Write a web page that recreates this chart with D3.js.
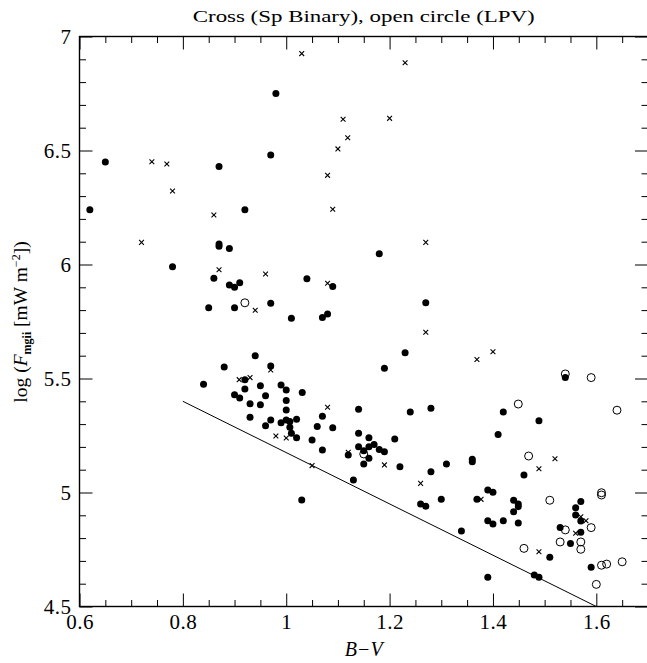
<!DOCTYPE html>
<html><head><meta charset="utf-8">
<script src="https://cdn.jsdelivr.net/npm/d3@7"></script>
<style>body{margin:0;background:#fff}svg{display:block}</style>
</head><body>
<script>
const title = "Cross (Sp Binary), open circle (LPV)";
const xTicksMajor = [0.6, 0.8, 1.0, 1.2, 1.4, 1.6];
const yTicksMajor = [4.5, 5, 5.5, 6, 6.5, 7];
const xTickLabels = ["0.6", "0.8", "1", "1.2", "1.4", "1.6"];
const yTickLabels = ["4.5", "5", "5.5", "6", "6.5", "7"];
const lineBV = [0.8, 1.6];
const lineF = [5.4, 4.5];
const filled = [
[0.62,6.24],[0.65,6.45],[0.87,6.43],[0.92,6.24],[0.97,6.48],[0.98,6.75],
[0.87,6.09],[0.87,6.08],[0.89,6.07],[0.78,5.99],[0.86,5.94],[0.89,5.91],[0.90,5.90],[0.91,5.92],[0.97,5.83],[0.85,5.81],[0.90,5.81],
[0.94,5.60],[0.88,5.55],[0.97,5.555],[0.84,5.475],[0.92,5.495],[0.92,5.454],[0.95,5.468],[0.90,5.429],[0.91,5.414],[0.96,5.424],[0.93,5.389],[0.95,5.385],
[0.99,5.472],[1.0,5.45],[1.031,5.439],[1.0,5.403],[1.0,5.362],[0.93,5.33],[0.97,5.318],[0.96,5.293],[0.99,5.306],[1.0,5.318],[1.007,5.311],[1.02,5.321],[1.007,5.286],[1.01,5.26],[1.02,5.24],
[1.07,5.334],[1.06,5.289],[1.09,5.284],[1.05,5.23],[1.07,5.186],[1.03,4.967],
[1.14,5.365],[1.14,5.26],[1.14,5.201],[1.16,5.24],[1.16,5.201],[1.17,5.211],[1.15,5.183],[1.16,5.15],[1.15,5.125],[1.18,5.189],[1.19,5.179],[1.12,5.164],[1.13,5.055],[1.21,5.235],[1.22,5.113],[1.24,5.353],[1.28,5.369],
[1.26,4.95],[1.27,4.94],[1.28,5.091],[1.31,5.125],[1.30,4.97],[1.36,5.146],[1.36,5.135],[1.369,4.97],[1.339,4.831],
[1.18,6.047],[1.04,5.938],[1.09,5.903],[1.27,5.832],[1.01,5.764],[1.07,5.767],[1.08,5.783],[1.23,5.613],[1.19,5.545],
[1.54,5.504],[1.42,5.353],[1.489,5.315],[1.41,5.254],
[1.46,5.077],[1.39,5.011],[1.40,5.001],[1.44,4.966],[1.449,4.95],[1.449,4.938],[1.44,4.916],[1.39,4.876],[1.40,4.862],[1.42,4.876],[1.449,4.866],
[1.56,4.933],[1.57,4.96],[1.56,4.901],[1.57,4.875],[1.53,4.846],[1.57,4.826],[1.55,4.776],[1.51,4.716],[1.59,4.672],[1.48,4.638],[1.489,4.628],[1.39,4.628]
];
const open = [
[0.92,5.832],[1.15,5.169],[1.54,5.52],[1.59,5.504],[1.449,5.388],[1.64,5.361],[1.469,5.16],[1.51,4.966],[1.61,4.999],[1.61,4.989],
[1.54,4.836],[1.59,4.846],[1.53,4.783],[1.57,4.783],[1.57,4.751],[1.46,4.755],[1.61,4.681],[1.62,4.686],[1.65,4.696],[1.60,4.597]
];
const cross = [
[0.74,6.451],[0.769,6.441],[0.78,6.322],[0.86,6.217],[1.03,6.925],[1.23,6.885],[1.11,6.637],[1.20,6.641],[1.119,6.556],[1.10,6.507],
[1.08,6.391],[1.09,6.242],[0.72,6.097],[1.27,6.097],[0.87,5.977],[0.96,5.958],[0.94,5.799],[0.97,5.537],[0.909,5.495],[0.93,5.504],
[0.98,5.248],[1.0,5.239],[1.08,5.374],[1.05,5.118],[1.12,5.176],[1.19,5.121],[1.26,5.04],[1.08,5.918],[1.27,5.703],[1.369,5.583],
[1.40,5.617],[1.52,5.148],[1.489,5.104],[1.377,4.97],[1.57,4.894],[1.58,4.876],[1.56,4.821],[1.489,4.74]
];

const W = 647, H = 663;
const L = 79.5, R = 648, T = 36.5, B = 606.5;
const font = "'Liberation Serif', 'DejaVu Serif', serif";
const svg = d3.select("body").append("svg").attr("width", W).attr("height", H);
svg.append("rect").attr("width", W).attr("height", H).attr("fill", "#fff");

const x = d3.scaleLinear().domain([0.6, 1.7]).range([L, R]);
const y = d3.scaleLinear().domain([4.5, 7]).range([B, T]);

const xMinor = d3.range(0.6, 1.7001, 0.05).map(v => +v.toFixed(2)).filter(v => !xTicksMajor.some(m => Math.abs(m - v) < 1e-6));
const yMinor = d3.range(4.5, 7.0001, 0.1).map(v => +v.toFixed(2)).filter(v => !yTicksMajor.some(m => Math.abs(m - v) < 1e-6));

function styleAxis(g) {
  g.select(".domain").remove();
  g.selectAll("line").attr("stroke", "#000").attr("stroke-width", 1);
  g.selectAll("text").attr("font-family", font).attr("font-size", 21).attr("fill", "#000").attr("letter-spacing", 0.5);
}
const fmtX = d => xTickLabels[xTicksMajor.indexOf(d)];
const fmtY = d => yTickLabels[yTicksMajor.indexOf(d)];

svg.append("g").attr("transform", `translate(0,${B})`).call(d3.axisBottom(x).tickValues(xTicksMajor).tickSize(-13).tickPadding(8).tickFormat(fmtX)).call(styleAxis);
svg.append("g").attr("transform", `translate(0,${B})`).call(d3.axisBottom(x).tickValues(xMinor).tickSize(-6.5).tickFormat("")).call(styleAxis);
svg.append("g").attr("transform", `translate(0,${T})`).call(d3.axisTop(x).tickValues(xTicksMajor).tickSize(-13).tickFormat("")).call(styleAxis);
svg.append("g").attr("transform", `translate(0,${T})`).call(d3.axisTop(x).tickValues(xMinor).tickSize(-6.5).tickFormat("")).call(styleAxis);
svg.append("g").attr("transform", `translate(${L},0)`).call(d3.axisLeft(y).tickValues(yTicksMajor).tickSize(-13).tickPadding(8).tickFormat(fmtY)).call(styleAxis);
svg.append("g").attr("transform", `translate(${L},0)`).call(d3.axisLeft(y).tickValues(yMinor).tickSize(-6.5).tickFormat("")).call(styleAxis);
svg.append("g").attr("transform", `translate(${R},0)`).call(d3.axisRight(y).tickValues(yTicksMajor).tickSize(-13).tickFormat("")).call(styleAxis);
svg.append("g").attr("transform", `translate(${R},0)`).call(d3.axisRight(y).tickValues(yMinor).tickSize(-6.5).tickFormat("")).call(styleAxis);

svg.append("rect").attr("x", L).attr("y", T).attr("width", R - L).attr("height", B - T)
  .attr("fill", "none").attr("stroke", "#000").attr("stroke-width", 1.4);

// reference line
svg.append("line").attr("x1", x(lineBV[0])).attr("y1", y(lineF[0])).attr("x2", x(lineBV[1])).attr("y2", y(lineF[1]))
  .attr("stroke", "#000").attr("stroke-width", 1);

// open circles
svg.append("g").selectAll("circle").data(open).join("circle")
  .attr("cx", d => x(d[0])).attr("cy", d => y(d[1])).attr("r", 4)
  .attr("fill", "none").attr("stroke", "#000").attr("stroke-width", 1);

// crosses
const cs = 2.4;
svg.append("g").selectAll("path").data(cross).join("path")
  .attr("d", d => { const cx = x(d[0]), cy = y(d[1]); return `M${cx-cs},${cy-cs}L${cx+cs},${cy+cs}M${cx-cs},${cy+cs}L${cx+cs},${cy-cs}`; })
  .attr("stroke", "#000").attr("stroke-width", 1.1).attr("fill", "none");

// filled circles
svg.append("g").selectAll("circle").data(filled).join("circle")
  .attr("cx", d => x(d[0])).attr("cy", d => y(d[1])).attr("r", 3.5).attr("fill", "#000");

// title
svg.append("text").attr("x", (L + R) / 2).attr("y", 22).attr("text-anchor", "middle")
  .attr("font-family", font).attr("font-size", 17).attr("fill", "#000")
  .attr("textLength", 342).attr("lengthAdjust", "spacingAndGlyphs").text(title);

// x label
svg.append("text").attr("x", (L + R) / 2).attr("y", 656).attr("text-anchor", "middle")
  .attr("font-family", font).attr("font-size", 20).attr("font-style", "italic").attr("fill", "#000")
  .text("B\u2212V");

// y label
const yl = svg.append("text").attr("transform", "translate(27,322) rotate(-90)").attr("text-anchor", "middle")
  .attr("font-family", font).attr("font-size", 19.5).attr("fill", "#000");
yl.append("tspan").text("log (");
yl.append("tspan").attr("font-style", "italic").text("F");
yl.append("tspan").attr("font-size", 12).attr("font-weight", "bold").attr("dy", 4).text("mgii");
yl.append("tspan").attr("dy", -4).text(" [mW m");
yl.append("tspan").attr("font-size", 12).attr("dy", -7).text("\u22122");
yl.append("tspan").attr("dy", 7).text("])");
</script>
</body></html>
